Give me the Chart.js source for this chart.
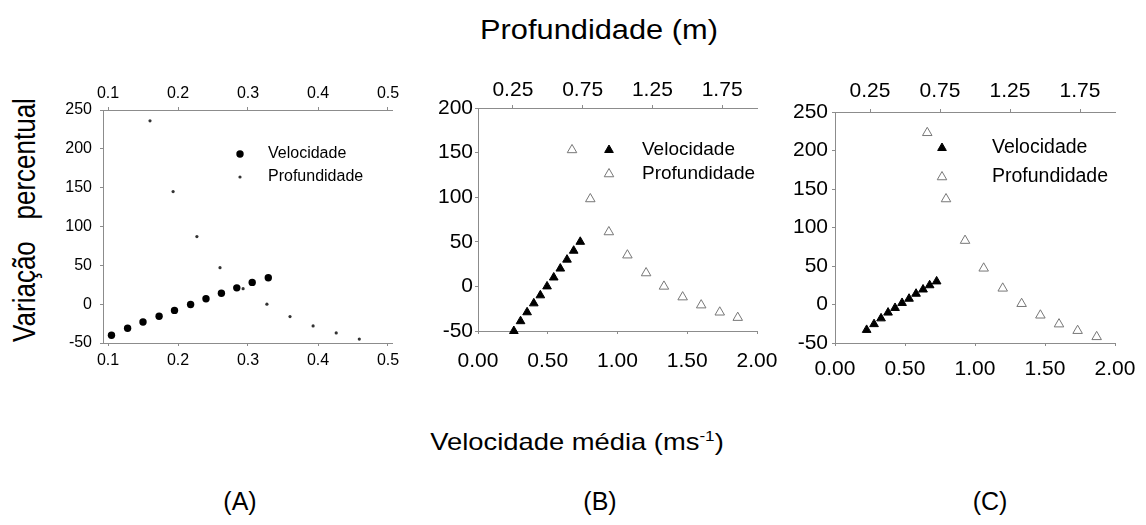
<!DOCTYPE html>
<html>
<head>
<meta charset="utf-8">
<script src="https://cdn.jsdelivr.net/npm/chart.js@4.4.1/dist/chart.umd.min.js"></script>
<style>
  html, body { margin: 0; padding: 0; background: #fff; }
  body { width: 1146px; height: 525px; position: relative; overflow: hidden;
         font-family: "Liberation Sans", Arial, sans-serif; color: #000; }
  .lbl { position: absolute; white-space: pre; line-height: 1; transform-origin: center; }
  .box { position: absolute; }
</style>
</head>
<body>

<div class="lbl" style="left:599px; top:30px; font-size:27px; transform:translate(-50%,-50%) scaleX(1.14)">Profundidade (m)</div>
<div class="lbl" style="left:24px; top:220px; font-size:26px; transform:translate(-50%,-50%) scaleX(1.2) rotate(-90deg)">Variação   percentual</div>
<div class="lbl" style="left:577px; top:441px; font-size:24px; transform:translate(-50%,-50%) scaleX(1.14)">Velocidade média (ms<sup style="font-size:15px">-1</sup>)</div>
<div class="lbl" style="left:240px; top:501px; font-size:25px; transform:translate(-50%,-50%)">(A)</div>
<div class="lbl" style="left:600px; top:501px; font-size:25px; transform:translate(-50%,-50%)">(B)</div>
<div class="lbl" style="left:990px; top:501px; font-size:25px; transform:translate(-50%,-50%)">(C)</div>

<script>
// ── Dados ───────────────────────────────────────────────────────────
const labels = ['Velocidade', 'Profundidade'];

// (A)
const aVelX  = [0.105, 0.128, 0.150, 0.173, 0.195, 0.218, 0.240, 0.262, 0.284, 0.306, 0.329];
const aVelY  = [-40, -31, -23, -15.5, -8, -0.5, 7, 14, 21, 28, 34];
const aProfX = [0.160, 0.193, 0.227, 0.260, 0.293, 0.327, 0.360, 0.393, 0.426, 0.459];
const aProfY = [236, 145, 87, 47, 20, 0, -16, -28, -37, -45];

// (B)
const bVelX  = [0.257, 0.305, 0.352, 0.400, 0.447, 0.495, 0.543, 0.590, 0.638, 0.686, 0.733];
const bVelY  = [-50, -39, -29, -19, -10, 0, 10, 20, 30, 40, 50];
const bProfX = [0.674, 0.805, 0.938, 1.071, 1.205, 1.333, 1.467, 1.600, 1.733, 1.862];
const bProfY = [153, 98, 61, 35, 15, 0, -12, -21, -29, -35];

// (C)
const cVelX  = [0.226, 0.279, 0.329, 0.379, 0.429, 0.479, 0.529, 0.579, 0.629, 0.676, 0.726];
const cVelY  = [-33, -25.5, -18, -10.5, -4.5, 2, 7.5, 14, 19.5, 25, 30];
const cProfX = [0.659, 0.793, 0.929, 1.062, 1.198, 1.333, 1.467, 1.600, 1.733, 1.869];
const cProfY = [223, 137, 83, 47, 21, 1, -14, -25.5, -34, -42];

// Rótulos dos eixos
const aTicksX    = [0.1, 0.2, 0.3, 0.4, 0.5];
const bcTicksX   = [0, 0.5, 1, 1.5, 2];
const bcTicksTop = [0.25, 0.75, 1.25, 1.75];

// ── Legenda dentro da área do gráfico ───────────────────────────────
const inlineLegend = {
    id: 'inlineLegend',
    afterDatasetsDraw(chart, args, opts) {
        const { ctx, chartArea } = chart;
        chart.data.datasets.forEach((ds, i) => {
            const x = chartArea.left + opts.x;
            const y = chartArea.top + opts.y + i * opts.gap;
            ctx.save();
            ctx.fillStyle   = ds.backgroundColor;
            ctx.strokeStyle = ds.borderColor;
            ctx.lineWidth   = ds.borderWidth;
            Chart.helpers.drawPoint(ctx, {
                pointStyle: ds.pointStyle, radius: ds.pointRadius,
                borderWidth: ds.borderWidth, rotation: 0
            }, x, y);
            ctx.fillStyle    = '#000';
            ctx.font         = opts.font;
            ctx.textAlign    = 'left';
            ctx.textBaseline = 'middle';
            ctx.fillText(ds.label, x + opts.textOffset, y);
            ctx.restore();
        });
    }
};

const FONT   = "'Liberation Sans', Arial, sans-serif";
const AXIS   = '#8c8c8c';
const MARGIN = { l: 70, t: 45, b: 45, r: 32 };

const toPts = (xs, ys) => xs.map((x, i) => ({ x, y: ys[i] }));

function fixedTicks(vals) {
    return s => { s.ticks = vals.map(v => ({ value: v })); };
}

function axisX(pos, min, max, vals, digits, size, pad) {
    return {
        type: 'linear', position: pos, min, max,
        afterBuildTicks: fixedTicks(vals),
        afterFit: s => {
            s.height = pos === 'top' ? MARGIN.t : MARGIN.b;
            s.paddingLeft = 0; s.paddingRight = 0;
        },
        grid:   { drawOnChartArea: false, tickLength: 3, color: AXIS },
        border: { color: AXIS, width: 1 },
        ticks:  { color: '#000', font: { family: FONT, size }, padding: pad,
                  maxRotation: 0, autoSkip: false,
                  callback: v => Number(v).toFixed(digits) }
    };
}

function axisY(min, max, size, pad) {
    return {
        type: 'linear', min, max,
        afterFit: s => { s.width = MARGIN.l; s.paddingTop = 0; s.paddingBottom = 0; },
        grid:   { drawOnChartArea: false, tickLength: 3, color: AXIS },
        border: { color: AXIS, width: 1 },
        ticks:  { color: '#000', font: { family: FONT, size }, padding: pad, stepSize: 50 }
    };
}

function makePanel(area, datasets, scales, legend) {
    const box = document.createElement('div');
    box.className = 'box';
    box.style.left   = (area.l - MARGIN.l) + 'px';
    box.style.top    = (area.t - MARGIN.t) + 'px';
    box.style.width  = (area.r - area.l + MARGIN.l + MARGIN.r) + 'px';
    box.style.height = (area.b - area.t + MARGIN.t + MARGIN.b) + 'px';
    const canvas = document.createElement('canvas');
    box.appendChild(canvas);
    document.body.appendChild(box);

    new Chart(canvas, {
        type: 'scatter',
        data: { datasets },
        options: {
            responsive: true,
            maintainAspectRatio: false,
            animation: false,
            layout: { padding: { left: 0, top: 0, bottom: 0, right: MARGIN.r } },
            plugins: { legend: { display: false }, tooltip: { enabled: false }, inlineLegend: legend },
            scales
        },
        plugins: [inlineLegend]
    });
}

// ── Painel A ────────────────────────────────────────────────────────
const aMin = 0.1 - 5 / 700, aMax = aMin + 289 / 700;
makePanel({ l: 103, t: 110, r: 392, b: 343 }, [
    { label: labels[0], data: toPts(aVelX, aVelY), xAxisID: 'x',
      pointStyle: 'circle', pointRadius: 3.7, backgroundColor: '#000', borderColor: '#000', borderWidth: 0, clip: false },
    { label: labels[1], data: toPts(aProfX, aProfY), xAxisID: 'x2',
      pointStyle: 'circle', pointRadius: 1.6, backgroundColor: '#333', borderColor: '#333', borderWidth: 0, clip: false }
], {
    x:  axisX('bottom', aMin, aMax, aTicksX, 1, 16, 5),
    x2: axisX('top',    aMin, aMax, aTicksX, 1, 16, 4),
    y:  axisY(-50, 250, 16, 8)
}, { x: 137, y: 44, gap: 23, textOffset: 28, font: '16px ' + FONT });

// ── Painel B ────────────────────────────────────────────────────────
makePanel({ l: 478, t: 108, r: 757, b: 331 }, [
    { label: labels[0], data: toPts(bVelX, bVelY), xAxisID: 'x',
      pointStyle: 'triangle', pointRadius: 5, backgroundColor: '#000', borderColor: '#000', borderWidth: 1, clip: false },
    { label: labels[1], data: toPts(bProfX, bProfY), xAxisID: 'x2',
      pointStyle: 'triangle', pointRadius: 5.5, backgroundColor: '#fff', borderColor: '#777', borderWidth: 1, clip: false }
], {
    x:  axisX('bottom', 0, 2, bcTicksX, 2, 21, 15),
    x2: axisX('top',    0, 2, bcTicksTop, 2, 21, 2),
    y:  axisY(-50, 200, 21, 2)
}, { x: 131, y: 42, gap: 24, textOffset: 33, font: '19px ' + FONT });

// ── Painel C ────────────────────────────────────────────────────────
makePanel({ l: 835, t: 112, r: 1115, b: 343 }, [
    { label: labels[0], data: toPts(cVelX, cVelY), xAxisID: 'x',
      pointStyle: 'triangle', pointRadius: 5, backgroundColor: '#000', borderColor: '#000', borderWidth: 1, clip: false },
    { label: labels[1], data: toPts(cProfX, cProfY), xAxisID: 'x2',
      pointStyle: 'triangle', pointRadius: 5.5, backgroundColor: '#fff', borderColor: '#777', borderWidth: 1, clip: false }
], {
    x:  axisX('bottom', 0, 2, bcTicksX, 2, 21, 11),
    x2: axisX('top',    0, 2, bcTicksTop, 2, 21, 5),
    y:  axisY(-50, 250, 21, 4)
}, { x: 107, y: 36, gap: 29, textOffset: 50, font: '19.5px ' + FONT });
</script>
</body>
</html>
